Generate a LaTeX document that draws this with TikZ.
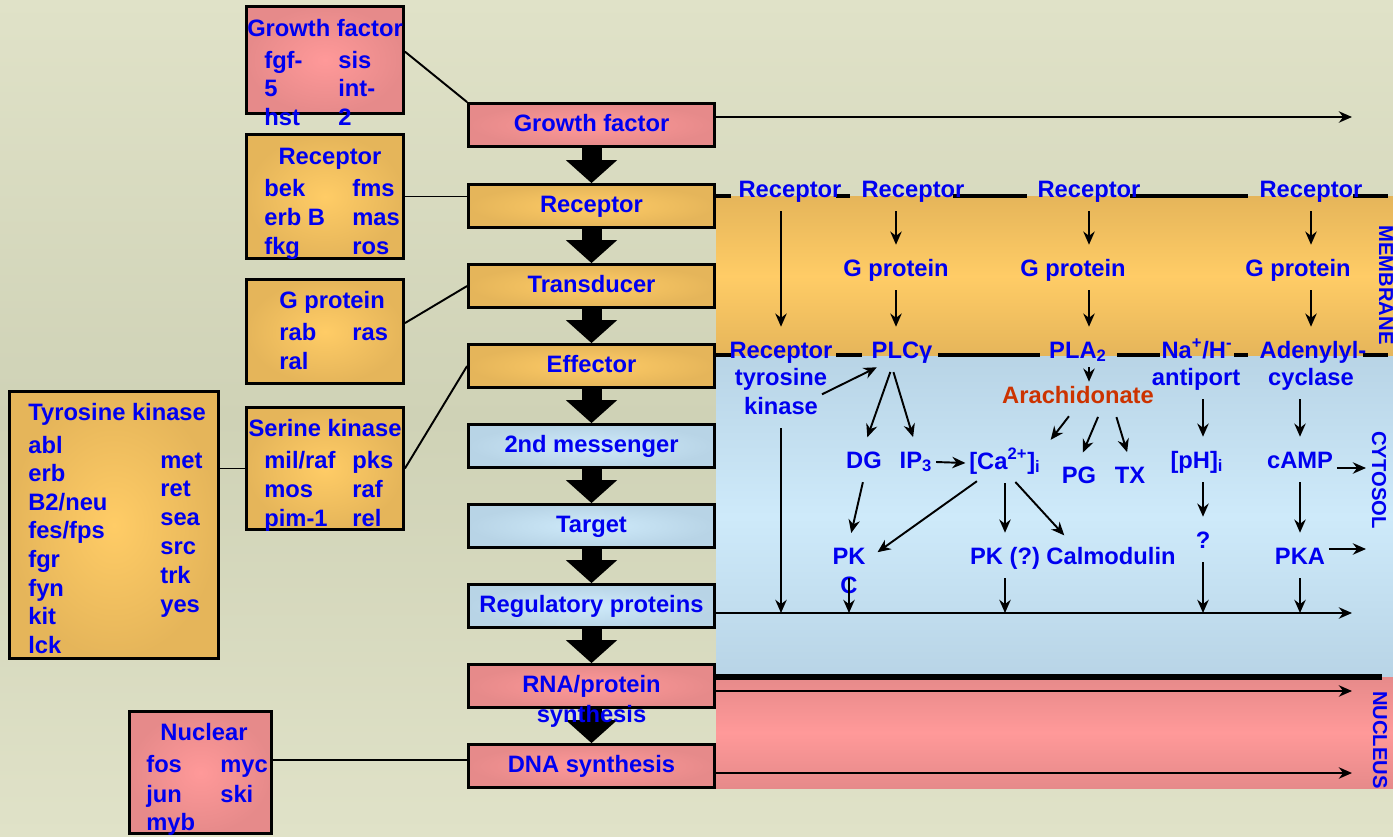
\documentclass[tikz,border=0pt]{standalone}
\usepackage{fontspec}
\setmainfont{Liberation Sans}
\usetikzlibrary{arrows.meta}
\definecolor{bgtop}{RGB}{224,226,200}
\definecolor{bgmid}{RGB}{207,210,182}
\definecolor{pinkin}{RGB}{255,153,153}
\definecolor{pinkout}{RGB}{230,138,138}
\definecolor{orin}{RGB}{255,204,102}
\definecolor{orout}{RGB}{229,181,90}
\definecolor{blin}{RGB}{206,234,250}
\definecolor{blout}{RGB}{184,212,230}
\definecolor{txtblue}{RGB}{0,0,240}
\definecolor{arachred}{RGB}{204,51,0}

\begin{document}
\begin{tikzpicture}[x=0.02cm, y=-0.02cm]
	\tikzstyle{lbl}=[text=txtblue, font=\bfseries\fontsize{13.5}{16}\selectfont, text height=10pt, text depth=3pt, inner sep=2pt]
	\tikzstyle{item}=[lbl, anchor=west, inner sep=0pt]
	\tikzstyle{vlbl}=[text=txtblue, font=\bfseries\fontsize{11.5}{13}\selectfont, rotate=-90, inner sep=0pt]
	\tikzstyle{pinkfill}=[shade, inner color=pinkin, outer color=pinkout]
	\tikzstyle{orfill}=[shade, inner color=orin, outer color=orout]
	\tikzstyle{blfill}=[shade, inner color=blin, outer color=blout]
	\tikzstyle{mbox}=[lbl, draw, line width=1.6pt, minimum width=4.92cm, minimum height=0.86cm]
	\tikzstyle{sbox}=[draw, line width=1.6pt, inner sep=0pt]
	\tikzstyle{conn}=[line width=1.1pt]
	\tikzstyle{arr}=[line width=1.1pt, -{Stealth[length=7.5pt,width=6.5pt]}]
	\tikzstyle{link}=[arr, shorten <=0.1cm, shorten >=0.2cm]
	\tikzstyle{drop}=[arr, shorten <=0.1cm]
	\tikzstyle{bigarr}=[line width=0.4cm, -{Triangle[length=0.46cm,width=1cm]}]
	\tikzstyle{memline}=[line width=2.8pt]
	
	\useasboundingbox (0,0) rectangle (1393,836);
	\shade[top color=bgtop, bottom color=bgtop, middle color=bgmid] (0,0) rectangle (1393,836);
	\shade[top color=orout, bottom color=orout, middle color=orin] (716,196) rectangle (1393,356);
	\shade[top color=blout, bottom color=blout, middle color=blin] (716,356) rectangle (1393,677);
	\shade[top color=pinkout, bottom color=pinkout, middle color=pinkin] (716,677) rectangle (1393,788);
	
	\foreach \a/\b in {716/731,836/850,953/1027,1130/1248,1353/1388}
	\draw[memline] (\a,196) -- (\b,196);
	\foreach \a/\b in {716/731,836/862,938/1040,1117/1160,1234/1248,1363/1388}
	\draw[memline] (\a,355) -- (\b,355);
	\draw[line width=3.4pt] (716,677) -- (1382,677);
	
	\foreach \n/\y/\t/\c in {gf/125/Growth factor/pinkfill, rec/206/Receptor/orfill, tra/286/Transducer/orfill, eff/366/Effector/orfill, sec/446/2nd messenger/blfill, tar/526/Target/blfill, reg/606/Regulatory proteins/blfill, rna/686/RNA\slash protein/pinkfill, dna/766/DNA synthesis/pinkfill}
	\node[mbox,\c](m-\n) at (591.5,\y) {\t};
	
	\foreach \a/\b in {gf/rec,rec/tra,tra/eff,eff/sec,sec/tar,tar/reg,reg/rna,rna/dna}
	\draw[bigarr] (m-\a) -- (m-\b);
	\node[lbl](m-syn) at (591.5,716) {synthesis};
	
	\node[sbox,pinkfill,minimum width=3.14cm,minimum height=2.14cm](gfb) at (325,60) {};
	\node[sbox,orfill,minimum width=3.14cm,minimum height=2.48cm](recb) at (325,196.5) {};
	\node[sbox,orfill,minimum width=3.14cm,minimum height=2.08cm](gpb) at (325,331.5) {};
	\node[sbox,orfill,minimum width=3.14cm,minimum height=2.44cm](serb) at (325,468.5) {};
	\node[sbox,orfill,minimum width=4.18cm,minimum height=5.34cm](tyrb) at (114,525) {};
	\node[sbox,pinkfill,minimum width=2.84cm,minimum height=2.44cm](nucb) at (200.5,772.5) {};
	
	\node[lbl](gf-t) at (325,30) {Growth factor};
	\foreach \a/\b [count=\i] in {fgf-/sis, 5/int-, hst/2}{
		\node[item](gf-a\i) at (264,{33.5+28.5*\i}) {\a};
		\node[item](gf-b\i) at (338,{33.5+28.5*\i}) {\b};
	}
	\node[lbl](rec-t) at (330,158) {Receptor};
	\foreach \a/\b [count=\i] in {bek/fms, erb B/mas, fkg/ros}{
		\node[item](rec-a\i) at (264,{161+29*\i}) {\a};
		\node[item](rec-b\i) at (352,{161+29*\i}) {\b};
	}
	\node[item](gp-t) at (279,302) {G protein};
	\node[item](gp-a1) at (279,334) {rab};
	\node[item](gp-b1) at (352,334) {ras};
	\node[item](gp-a2) at (279,363) {ral};
	\node[lbl](ser-t) at (325,430) {Serine kinase};
	\foreach \a/\b [count=\i] in {mil\slash raf/pks, mos/raf, pim-1/rel}{
		\node[item](ser-a\i) at (264,{433+29*\i}) {\a};
		\node[item](ser-b\i) at (352,{433+29*\i}) {\b};
	}
	\node[item](tk-t) at (28,414) {Tyrosine kinase};
	\foreach \t [count=\i] in {abl,erb,B2/neu,fes/fps,fgr,fyn,kit,lck}
	\node[item](tk-a\i) at (28,{418.4+28.6*\i}) {\t};
	\foreach \t [count=\i] in {met,ret,sea,src,trk,yes}
	\node[item](tk-b\i) at (160,{433.2+28.8*\i}) {\t};
	\node[lbl](nuc-t) at (204,734) {Nuclear};
	\foreach \a/\b [count=\i] in {fos/myc, jun/ski}{
		\node[item](nuc-a\i) at (146,{736+30*\i}) {\a};
		\node[item](nuc-b\i) at (220,{736+30*\i}) {\b};
	}
	\node[item](nuc-a3) at (146,824) {myb};
	
	\draw[conn] (gfb.6) -- (m-gf.north west);
	\draw[conn] (recb.east) -- (recb.east -| m-rec.west);
	\draw[conn] (gpb.6) -- (m-tra.west);
	\draw[conn] (serb.east) -- (m-eff.west);
	\draw[conn] (tyrb.east |- serb.west) -- (serb.west);
	\draw[conn] (nucb.10) -- (nucb.10 -| m-dna.west);
	
	\node[lbl](r1) at (790,191) {Receptor};
	\node[lbl](r2) at (913,191) {Receptor};
	\node[lbl](r3) at (1089,191) {Receptor};
	\node[lbl](r4) at (1311,191) {Receptor};
	\node[lbl](g2) at (896,270) {G protein};
	\node[lbl](g3) at (1073,270) {G protein};
	\node[lbl](g4) at (1298,270) {G protein};
	\node[lbl](rtk) at (781,352) {Receptor};
	\node[lbl](plc) at (902,352) {PLCγ};
	\node[lbl](pla) at (1078,352) {PLA\textsubscript{2}};
	\node[lbl](na) at (1197,352) {Na\textsuperscript{+}/H\textsuperscript{-}};
	\node[lbl](ad) at (1313,352) {Adenylyl-};
	\node[lbl](ty) at (781,379) {tyrosine};
	\node[lbl](ki) at (781,408) {kinase};
	\node[lbl](anti) at (1196,379) {antiport};
	\node[lbl](cyc) at (1311,379) {cyclase};
	\node[lbl,text=arachred](arach) at (1078,397) {Arachidonate};
	\node[lbl](dg) at (864,462) {DG};
	\node[lbl](ip) at (916,462) {IP\textsubscript{3}};
	\node[lbl](ca) at (1005,463) {[Ca\textsuperscript{2+}]\textsubscript{i}};
	\node[lbl](ph) at (1197,462) {[pH]\textsubscript{i}};
	\node[lbl](camp) at (1300,462) {cAMP};
	\node[lbl](pg) at (1079,477) {PG};
	\node[lbl](tx) at (1130,477) {TX};
	\node[lbl](q) at (1203,542) {?};
	\node[lbl](pk) at (849,558) {PK};
	\node[lbl](pkc) at (849,587) {C};
	\node[lbl](pkq) at (1005,558) {PK (?)};
	\node[lbl](calm) at (1111,558) {Calmodulin};
	\node[lbl](pka) at (1300,558) {PKA};
	
	\node[vlbl](mem) at (1386,285) {MEMBRANE};
	\node[vlbl](cyt) at (1379,480) {CYTOSOL};
	\node[vlbl](nuc) at (1380,740) {NUCLEUS};
	
	\coordinate (gfend) at (1352,117);
	\coordinate (hl) at (1352,613);
	\coordinate (nuc1) at (1352,691);
	\coordinate (nuc2) at (1352,773);
	\coordinate (rt1) at (1366,468);
	\coordinate (rt2) at (1366,549);
	
	\draw[arr] (m-gf.east |- gfend) -- (gfend);
	\draw[arr] (m-reg.east |- hl) -- (hl);
	\draw[arr] (m-rna.east |- nuc1) -- (nuc1);
	\draw[arr] (m-dna.east |- nuc2) -- (nuc2);
	
	\draw[link] (r1.south -| rtk) -- (rtk.north);
	\draw[link] (r2.south -| g2) -- (g2.north);
	\draw[link] (g2.south) -- (g2.south |- plc.north);
	\draw[link] (r3.south) -- (r3.south |- g3.north);
	\draw[link] (g3.south -| r3) -- (pla.north -| r3);
	\draw[link] (r4.south) -- (r4.south |- g4.north);
	\draw[link] (g4.south -| r4) -- (ad.north -| r4);
	
	\draw[arr] ([xshift=-0.18cm]ty.south east) -- ([xshift=0.18cm]plc.south west);
	\draw[link] ([xshift=-0.2cm]plc.south) -- (dg.north);
	\draw[link] ([xshift=-0.2cm]plc.south) -- (ip.north);
	\draw[arr] (ip.east) -- (ca.west);
	\draw[arr] (pla.south -| r3) -- (arach.north -| r3);
	\draw[link] ([xshift=-0.12cm]arach.south) -- (ca.north east);
	\draw[link] ([xshift=0.44cm]arach.south) -- (pg.north);
	\draw[link] ([xshift=0.74cm]arach.south) -- (tx.north);
	\draw[link] (anti.south -| q) -- (ph.north -| q);
	\draw[link] (ph.south -| q) -- (q.north);
	\draw[link] (cyc.south -| camp) -- (camp.north);
	\draw[arr] (camp.east |- rt1) -- (rt1);
	\draw[link] (camp.south) -- (pka.north);
	\draw[arr] (pka.east |- rt2) -- (rt2);
	\draw[link] (dg.south) -- (pk.north);
	\draw[link] ([xshift=-0.48cm]ca.south) -- (pk.east);
	\draw[link] (ca.south -| pkq) -- (pkq.north);
	\draw[link] ([xshift=0.14cm]ca.south) -- ([xshift=-0.8cm]calm.north);
	
	\draw[drop] (ki.south) -- (ki.south |- hl);
	\draw[drop] (pk.south) -- (pk.south |- hl);
	\draw[drop] (pkq.south) -- (pkq.south |- hl);
	\draw[drop] (q.south) -- (q.south |- hl);
	\draw[drop] (pka.south) -- (pka.south |- hl);
\end{tikzpicture}
\end{document}
